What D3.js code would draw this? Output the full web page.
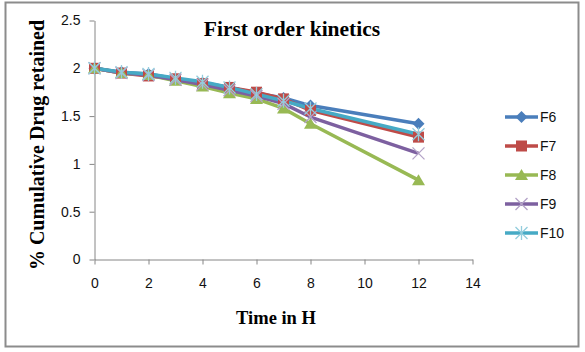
<!DOCTYPE html>
<html>
<head>
<meta charset="utf-8">
<script src="https://cdn.jsdelivr.net/npm/d3@7"></script>
<style>
  body { margin: 0; background: #fff; }
  svg { display: block; }
</style>
</head>
<body>
<div id="chart"></div>
<script>
// time points (hours)
const hours = [0, 1, 2, 3, 4, 5, 6, 7, 8, 12];

// log % cumulative drug retained
const f6  = [2.00, 1.96, 1.94, 1.89, 1.85, 1.80, 1.74, 1.69, 1.61, 1.42];
const f7  = [2.00, 1.95, 1.92, 1.89, 1.84, 1.80, 1.75, 1.68, 1.56, 1.28];
const f8  = [2.00, 1.95, 1.93, 1.87, 1.81, 1.74, 1.68, 1.58, 1.42, 0.83];
const f9  = [2.00, 1.95, 1.93, 1.88, 1.83, 1.77, 1.71, 1.63, 1.49, 1.11];
const f10 = [2.00, 1.96, 1.94, 1.90, 1.86, 1.80, 1.73, 1.66, 1.58, 1.31];

const seriesNames = ["F6", "F7", "F8", "F9", "F10"];
const xTicks = [0, 2, 4, 6, 8, 10, 12, 14];
const yTicks = [0, 0.5, 1, 1.5, 2, 2.5];

const series = [
  { name: seriesNames[0], values: f6,  color: "#4a7ebb", marker: "diamond" },
  { name: seriesNames[1], values: f7,  color: "#be4b48", marker: "square" },
  { name: seriesNames[2], values: f8,  color: "#98b954", marker: "triangle" },
  { name: seriesNames[3], values: f9,  color: "#7d60a0", marker: "x", mcolor: "#b3a2c7" },
  { name: seriesNames[4], values: f10, color: "#46aac5", marker: "star", mcolor: "#93cddd" }
];

const width = 585, height = 352;

const svg = d3.select("#chart").append("svg")
  .attr("width", width)
  .attr("height", height);

// outer frame
svg.append("rect")
  .attr("x", 5.5).attr("y", 2.5)
  .attr("width", 573).attr("height", 344)
  .attr("fill", "#fff")
  .attr("stroke", "#8c8c8c")
  .attr("stroke-width", 2);

const x = d3.scaleLinear().domain([0, 14]).range([94.5, 472.5]);
const y = d3.scaleLinear().domain([0, 2.5]).range([259.5, 20.5]);

// axes
const axisColor = "#868686";
const tickFont = "'Liberation Sans', Arial, sans-serif";

const gx = svg.append("g")
  .attr("transform", `translate(0,${y(0)})`)
  .call(d3.axisBottom(x).tickValues(xTicks).tickSize(5).tickSizeOuter(0).tickPadding(14));
const gy = svg.append("g")
  .attr("transform", `translate(${x(0)},0)`)
  .call(d3.axisLeft(y).tickValues(yTicks).tickSize(5).tickSizeOuter(0).tickPadding(9)
    .tickFormat(d3.format("")));

[gx, gy].forEach(g => {
  g.select(".domain").attr("stroke", axisColor);
  g.selectAll(".tick line").attr("stroke", axisColor);
  g.selectAll(".tick text")
    .attr("fill", "#111")
    .style("font-family", tickFont)
    .style("font-size", "14px");
});

// lines
const line = d3.line()
  .x((d, i) => x(hours[i]))
  .y(d => y(d));

series.forEach(s => {
  svg.append("path")
    .datum(s.values)
    .attr("fill", "none")
    .attr("stroke", s.color)
    .attr("stroke-width", 3.5)
    .attr("stroke-linejoin", "round")
    .attr("d", line);
});

// marker drawing helper
function drawMarker(g, s, cx, cy) {
  const mc = s.mcolor || s.color;
  if (s.marker === "diamond") {
    g.append("path")
      .attr("d", `M${cx},${cy - 6}L${cx + 6},${cy}L${cx},${cy + 6}L${cx - 6},${cy}Z`)
      .attr("fill", s.color);
  } else if (s.marker === "square") {
    g.append("rect")
      .attr("x", cx - 5.5).attr("y", cy - 5.5)
      .attr("width", 11).attr("height", 11)
      .attr("fill", s.color);
  } else if (s.marker === "triangle") {
    g.append("path")
      .attr("d", `M${cx},${cy - 6}L${cx + 6.5},${cy + 5}L${cx - 6.5},${cy + 5}Z`)
      .attr("fill", s.color);
  } else if (s.marker === "x") {
    g.append("path")
      .attr("d", `M${cx - 6},${cy - 6}L${cx + 6},${cy + 6}M${cx - 6},${cy + 6}L${cx + 6},${cy - 6}`)
      .attr("stroke", mc).attr("stroke-width", 1.3);
  } else if (s.marker === "star") {
    g.append("path")
      .attr("d", `M${cx - 6},${cy - 6}L${cx + 6},${cy + 6}M${cx - 6},${cy + 6}L${cx + 6},${cy - 6}M${cx},${cy - 7}L${cx},${cy + 7}`)
      .attr("stroke", mc).attr("stroke-width", 1.3);
  }
}

series.forEach(s => {
  const g = svg.append("g");
  s.values.forEach((v, i) => drawMarker(g, s, x(hours[i]), y(v)));
});

// legend
const legend = svg.append("g");
series.forEach((s, i) => {
  const ly = 117 + i * 29;
  legend.append("line")
    .attr("x1", 505).attr("x2", 538)
    .attr("y1", ly).attr("y2", ly)
    .attr("stroke", s.color).attr("stroke-width", 3.5);
  drawMarker(legend, s, 521.5, ly);
  legend.append("text")
    .attr("x", 540).attr("y", ly)
    .attr("dy", "0.35em")
    .attr("fill", "#111")
    .style("font-family", tickFont)
    .style("font-size", "14px")
    .text(s.name);
});

// titles
const serif = "'Liberation Serif', 'Times New Roman', serif";
svg.append("text")
  .attr("x", 292).attr("y", 36)
  .attr("text-anchor", "middle")
  .style("font-family", serif)
  .style("font-weight", "bold")
  .style("font-size", "21.5px")
  .text("First order kinetics");

svg.append("text")
  .attr("x", 276).attr("y", 324)
  .attr("text-anchor", "middle")
  .style("font-family", serif)
  .style("font-weight", "bold")
  .style("font-size", "18.5px")
  .text("Time in H");

svg.append("text")
  .attr("transform", "translate(44,145) rotate(-90)")
  .attr("text-anchor", "middle")
  .style("font-family", serif)
  .style("font-weight", "bold")
  .style("font-size", "20px")
  .text("% Cumulative Drug retained");
</script>
</body>
</html>
